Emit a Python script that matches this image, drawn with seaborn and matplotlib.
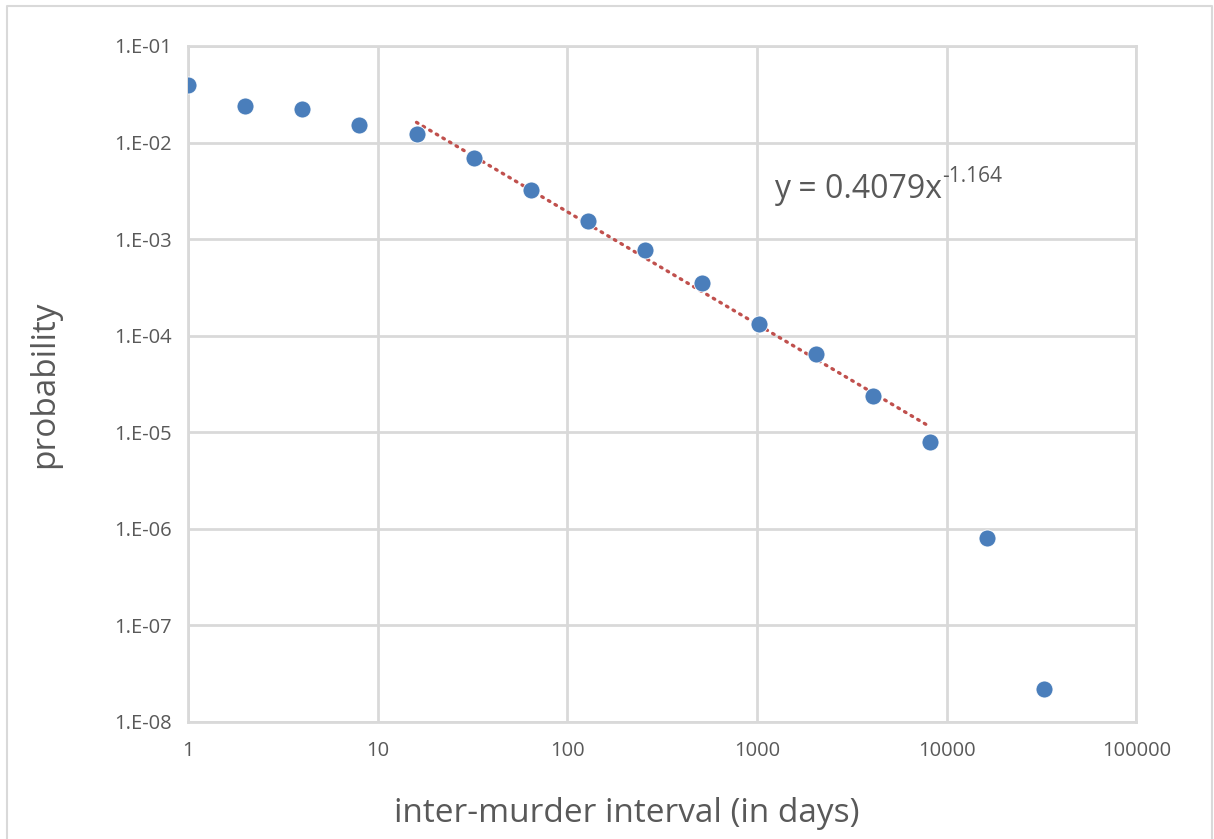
import numpy as np
import seaborn as sns
import matplotlib.pyplot as plt
from matplotlib.ticker import FixedLocator, FuncFormatter, NullLocator

# data
interval_days = [1, 2, 4, 8, 16, 32, 64, 128, 256, 512, 1024, 2048, 4096, 8192, 16384, 32768]
probability = [3.9e-2, 2.4e-2, 2.25e-2, 1.53e-2, 1.24e-2, 7.0e-3, 3.25e-3, 1.54e-3,
               7.8e-4, 3.55e-4, 1.33e-4, 6.4e-5, 2.4e-5, 8.0e-6, 8.0e-7, 2.2e-8]
fit_a, fit_b = 0.4079, -1.164
fit_range = [16, 8192]

sns.set_theme(style="white")
plt.rcParams['font.family'] = ['Open Sans', 'DejaVu Sans']

grey_txt = "#595959"
grid_c = "#D9D9D9"

fig = plt.figure(figsize=(12.14, 8.39), dpi=100)
ax = fig.add_axes([0.155, 0.1395, 0.781, 0.8057])

# power-law trendline
fx = np.logspace(np.log10(fit_range[0]), np.log10(fit_range[1]), 100)
ax.plot(fx, fit_a * fx ** fit_b, color="#C0504D", lw=2.4, ls=(0, (0.5, 1.8)),
        dash_capstyle="round", zorder=3)

sns.scatterplot(x=interval_days, y=probability, ax=ax, s=150, color="#4A7EBB",
                edgecolor="white", linewidth=0.6, zorder=4)

ax.set_xscale("log")
ax.set_yscale("log")
ax.set_xlim(1, 100000)
ax.set_ylim(1e-8, 1e-1)

ax.xaxis.set_major_locator(FixedLocator([1, 10, 100, 1000, 10000, 100000]))
ax.yaxis.set_major_locator(FixedLocator([10.0 ** k for k in range(-8, 0)]))
ax.xaxis.set_minor_locator(NullLocator())
ax.yaxis.set_minor_locator(NullLocator())
ax.xaxis.set_major_formatter(FuncFormatter(lambda v, p: f"{int(round(v))}"))
ax.yaxis.set_major_formatter(FuncFormatter(lambda v, p: f"1.E-{-int(round(np.log10(v))):02d}"))

ax.grid(True, color=grid_c, lw=2)
for s in ax.spines.values():
    s.set_color(grid_c)
    s.set_linewidth(2)
ax.tick_params(axis="both", length=0, labelsize=14.5, labelcolor=grey_txt)
ax.tick_params(axis="x", pad=14)
ax.tick_params(axis="y", pad=12)

ax.set_xlabel("inter-murder interval (in days)", fontsize=24, color=grey_txt, va="center")
ax.set_ylabel("probability", fontsize=24, color=grey_txt, va="center")
ax.xaxis.set_label_coords(0.463, -0.135)
ax.yaxis.set_label_coords(-0.151, 0.5)

eq = ax.text(0.618, 0.775, "y = 0.4079x", transform=ax.transAxes,
             fontsize=23, color=grey_txt)
ax.annotate("-1.164", xy=(1.0, 0.58), xycoords=eq, ha="left", va="bottom",
            fontsize=15, color=grey_txt)

# outer chart border
fig.add_artist(plt.Line2D([7 / 1214, 7 / 1214, 1212 / 1214, 1212 / 1214],
                          [0, 1 - 6 / 839, 1 - 6 / 839, 0],
                          transform=fig.transFigure, color=grid_c, lw=1.5))

fig.savefig("out.png", dpi=100, facecolor="white")
